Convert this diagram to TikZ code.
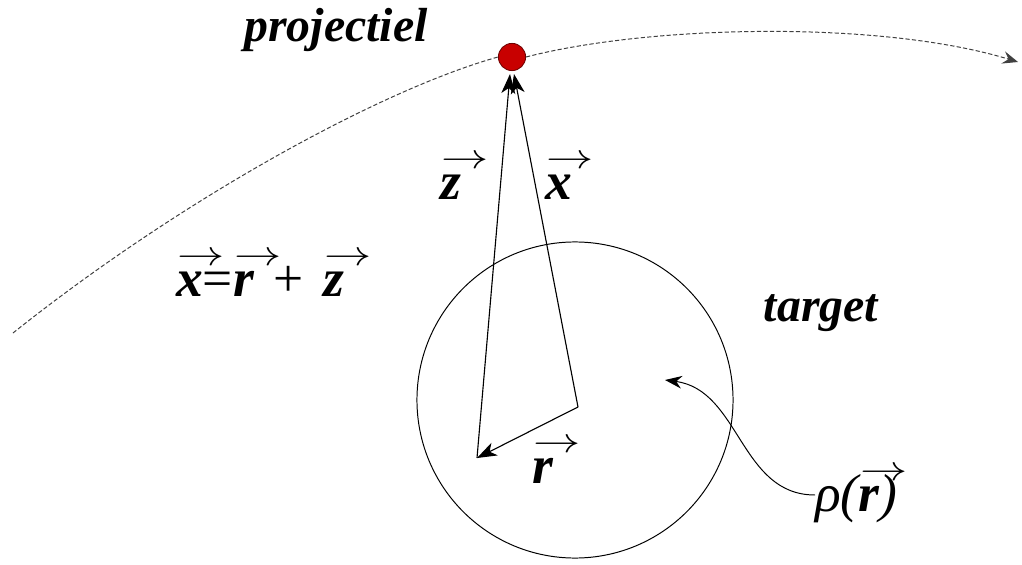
\documentclass[tikz,border=0pt]{standalone}
\usepackage{fontspec}
\usepackage{graphicx}
\setmainfont{Liberation Serif}
\usetikzlibrary{arrows.meta}
\newcommand{\bv}[1]{\rlap{\hspace{1pt}\raisebox{22pt}{\scalebox{1.35}[1]{\fontsize{26}{26}\selectfont$\rightarrow$}}}{\bfseries\itshape #1}}
\begin{document}
\begin{tikzpicture}[x=0.025cm,y=-0.025cm,
  vec/.style={line width=0.8pt,-{Stealth[length=14pt,width=10pt,inset=4pt]}},
  traj/.style={line width=0.7pt,black!75,dash pattern=on 3pt off 1.6pt},
  lbl/.style={font=\fontsize{34}{36}\selectfont\bfseries\itshape,inner sep=0pt},
  vlbl/.style={font=\fontsize{38}{40}\selectfont,inner sep=0pt}]
\useasboundingbox[fill=white] (0,0) rectangle (1022,565);
% trajectory
\coordinate (start) at (13,333);
\coordinate (end) at (1018,62);
% target
\node[draw,circle,line width=0.7pt,minimum size=7.9cm,inner sep=0pt] (target) at (575,400) {};
% projectile
\node[circle,fill={rgb,255:red,200;green,0;blue,0},draw={rgb,255:red,110;green,0;blue,0},line width=0.6pt,minimum size=0.68cm,inner sep=0pt] (proj) at (512,57) {};
\draw[traj] (start) .. controls (180,200) and (380,90) .. (proj.west);
\draw[traj,-{Stealth[length=11pt,width=9pt,inset=4pt]}] (proj.east) .. controls (650,25) and (880,20) .. (end);
\coordinate (tip) at (512,74);
\coordinate (O) at (578,407);
\coordinate (R) at (477,458);
\draw[vec] (R) -- ([xshift=-2*0.025cm]tip);
\draw[vec] (O) -- ([xshift=2*0.025cm]tip);
\draw[vec] (O) -- (R);
% labels
\node[lbl] (projlbl) at (336,30) {projectiel};
\node[lbl] (targetlbl) at (821,313) {target};
\node[vlbl,anchor=south west] (zl) at (440,200) {\bv{z}};
\node[vlbl,anchor=south west] (xl) at (545,200) {\bv{x}};
\node[vlbl,anchor=south west] (rl) at (532,484) {\bv{r}};
\node[vlbl,anchor=south west] (eq) at (176,297) {\bv{x}\mbox{=}\bv{r}\hspace{14pt}+\hspace{14pt}\bv{z}};
\node[vlbl,anchor=west] (rho) at (815,495) {\itshape ρ(\bv{r})};
\draw[line width=0.7pt,-{Stealth[length=12pt,width=9pt,inset=4pt]}] (rho.west) .. controls (740,495) and (740,390) .. (665,380);
\end{tikzpicture}
\end{document}
